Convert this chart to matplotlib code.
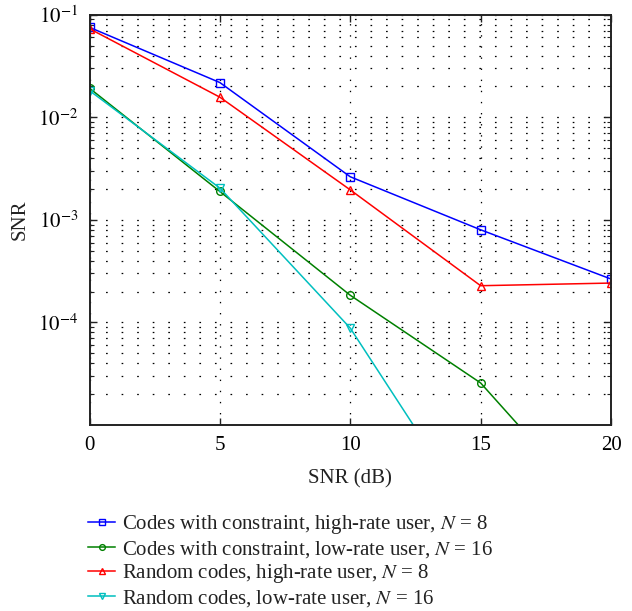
import matplotlib
matplotlib.use("Agg")
import matplotlib.pyplot as plt
import numpy as np

snr_db = [0, 5, 10, 15, 20]
codes_high = [0.0753, 0.0218, 0.00263, 8.0e-4, 2.65e-4]
codes_low = [0.0192, 0.00189, 1.84e-4, 2.57e-5, 9.8e-7]
random_high = [0.073, 0.0157, 0.00196, 2.28e-4, 2.42e-4]
random_low = [0.0182, 0.00204, 8.8e-5, 9.8e-7, 1.0e-8]

labels = [
    r"Codes with constraint, high-rate user, $N$ = 8",
    r"Codes with constraint, low-rate user, $N$ = 16",
    r"Random codes, high-rate user, $N$ = 8",
    r"Random codes, low-rate user, $N$ = 16",
]

plt.rcParams['font.family'] = ['Liberation Serif', 'DejaVu Serif']
plt.rcParams['mathtext.fontset'] = 'stix'
plt.rcParams['lines.scale_dashes'] = False

fig = plt.figure(figsize=(6.32, 6.11), dpi=100)
ax = fig.add_axes([89.5/632, 1 - 425/611, (611 - 89.5)/632, (425 - 14.7)/611])

series = [
    (codes_high, '#0000ff', 's'),
    (codes_low, '#008000', 'o'),
    (random_high, '#ff0000', '^'),
    (random_low, '#00bfbf', 'v'),
]
for (vals, c, m), lab in zip(series, labels):
    ax.semilogy(snr_db, vals, color=c, marker=m, markersize=5.5, markerfacecolor='none',
                markeredgewidth=1.0, linewidth=1.1, label=lab)

ax.set_xlim(0, 20)
ax.set_ylim(1e-5, 1e-1)
ax.set_xticks([0, 5, 10, 15, 20])
ax.set_yticks([1e-4, 1e-3, 1e-2, 1e-1])
ax.set_yticklabels([r"$10^{-4}$", r"$10^{-3}$", r"$10^{-2}$", r"$10^{-1}$"])
ax.yaxis.set_minor_locator(matplotlib.ticker.LogLocator(base=10, subs=np.arange(2, 10)))
ax.yaxis.set_minor_formatter(matplotlib.ticker.NullFormatter())

ax.tick_params(which='both', direction='in', top=True, right=True, labelsize=15, color='#222222')
ax.tick_params(which='major', length=5, width=1, pad=8)
ax.tick_params(which='minor', length=3, width=0.8)
ax.grid(True, which='major', axis='x', color='black', linestyle=(0, (1, 7)), linewidth=0.9)
ax.grid(True, which='both', axis='y', color='black', linestyle=(0, (1.2, 10)), linewidth=0.9)
for s in ax.spines.values():
    s.set_linewidth(1.4)
    s.set_color('#222222')

ax.set_xlabel("SNR (dB)", fontsize=15, color='#222222', labelpad=10)
ax.set_ylabel("SNR", fontsize=15, color='#222222', labelpad=6)

leg = fig.legend(loc='upper left', bbox_to_anchor=(80/632, 1 - 505/611), frameon=False,
                 fontsize=15, handlelength=1.3, handletextpad=0.3, labelspacing=0.12,
                 borderaxespad=0, markerscale=0.75)
for t in leg.get_texts():
    t.set_color('#222222')

fig.savefig("out.png", dpi=100)
